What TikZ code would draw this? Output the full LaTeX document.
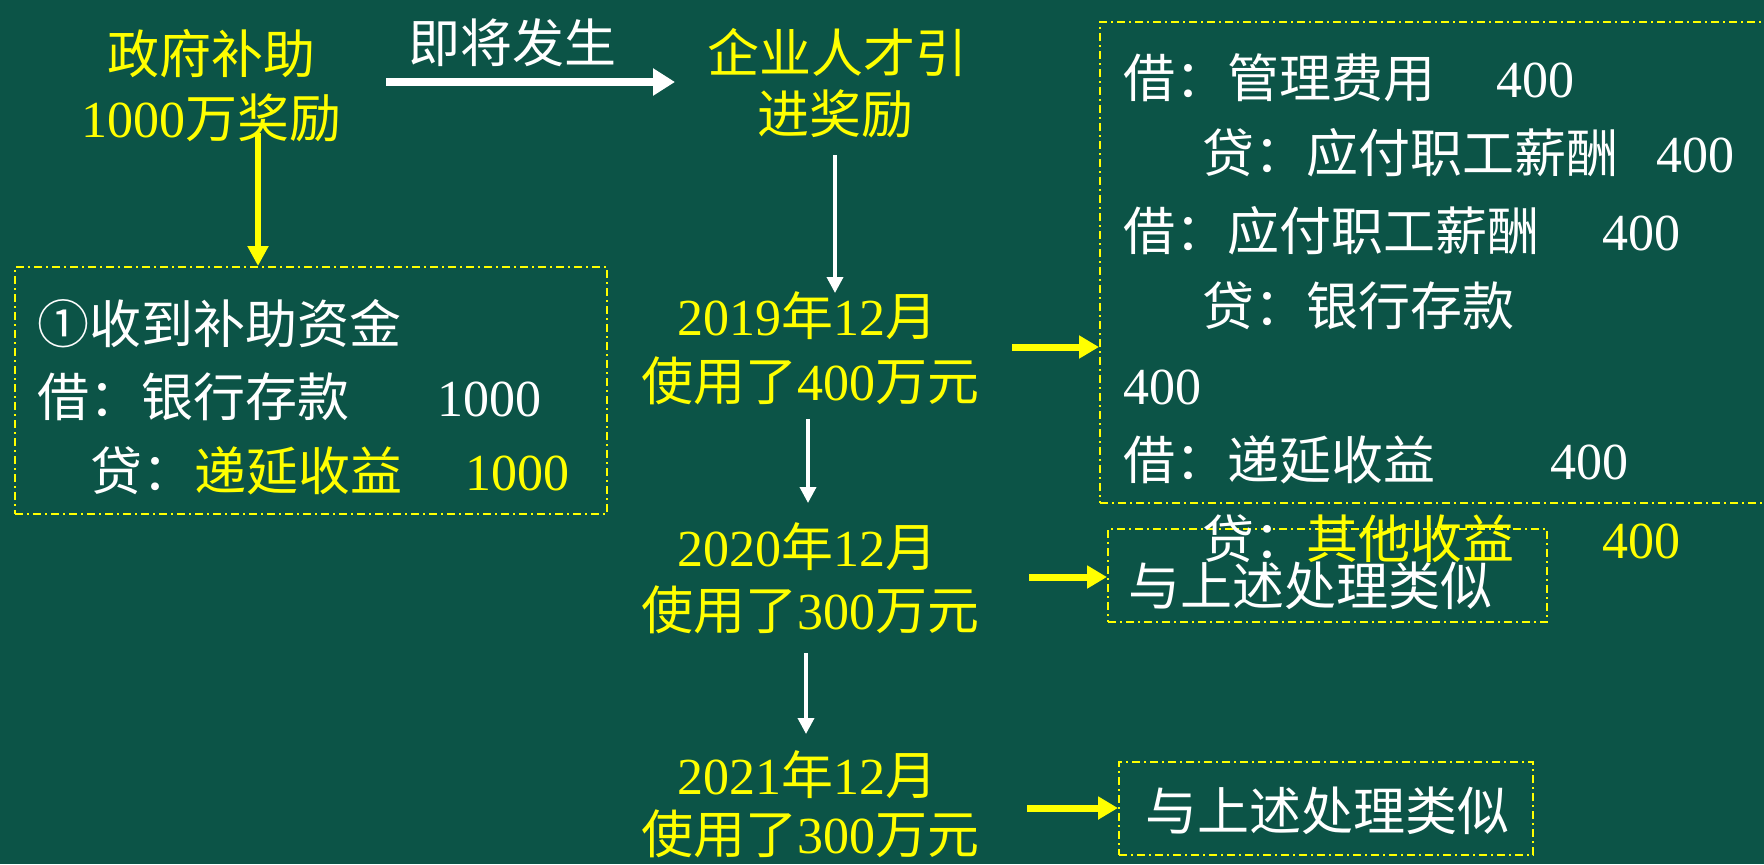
\documentclass[tikz,border=0pt]{standalone}
\usepackage{fontspec}
\setmainfont{Noto Sans CJK SC}
\newfontfamily\numf{Liberation Serif}
\newcommand\Dg[1]{{\numf #1}}
\usetikzlibrary{arrows.meta}
\definecolor{bg}{RGB}{12,84,71}
\definecolor{yel}{RGB}{255,255,0}
\begin{document}
\begin{tikzpicture}[x=0.5pt,y=-0.5pt,
  txt/.style={inner sep=0pt, font=\fontsize{26pt}{32pt}\selectfont, anchor=base},
  ytxt/.style={txt, text=yel},
  wtxt/.style={txt, text=white},
  ltxt/.style={wtxt, anchor=base west},
  dbox/.style={draw=yel, line width=1pt, dash pattern=on 4pt off 2pt on 1pt off 2pt, inner sep=0pt},
  bigw/.style={draw=white, line width=4pt, -{Triangle[length=11pt,width=13pt]}},
  thinw/.style={draw=white, line width=1.8pt, -{Triangle[length=8pt,width=8pt]}},
  yv/.style={draw=yel, line width=3pt, -{Triangle[length=10pt,width=10pt]}},
  yh/.style={draw=yel, line width=3.5pt, -{Triangle[length=10pt,width=11pt]}}
]
\fill[bg] (0,0) rectangle (1764,864);
\useasboundingbox (0,0) rectangle (1764,864);
\clip (0,0) rectangle (1764,864);

% yellow labels
\node[ytxt] (gov1) at (211,73) {政府补助};
\node[ytxt] (gov2) at (211,137) {\Dg{1000}万奖励};
\node[wtxt] (soon) at (512,62) {即将发生};
\node[ytxt] (ent1) at (837,72) {企业人才引};
\node[ytxt] (ent2) at (835,133) {进奖励};
\node[ytxt] (y19a) at (807,335) {\Dg{2019}年\Dg{12}月};
\node[ytxt] (y19b) at (810,400) {使用了\Dg{400}万元};
\node[ytxt] (y20a) at (807,566) {\Dg{2020}年\Dg{12}月};
\node[ytxt] (y20b) at (810,629) {使用了\Dg{300}万元};
\node[ytxt] (y21a) at (807,794) {\Dg{2021}年\Dg{12}月};
\node[ytxt] (y21b) at (810,853) {使用了\Dg{300}万元};

% boxes
\node[dbox, minimum width=296pt, minimum height=123.5pt] (box1) at (311,390.5) {};
\node[dbox, minimum width=345pt, minimum height=240.5pt] (box2) at (1445,262.5) {};
\node[dbox, minimum width=219.5pt, minimum height=46.5pt] (box3) at (1327.5,575.5) {};
\node[dbox, minimum width=207pt, minimum height=46.5pt] (box4) at (1326,808.5) {};

% left box text
\node[ltxt] (b1) at (37,343) {①收到补助资金};
\node[ltxt] (b2) at (37,416) {借：银行存款};
\node[ltxt] (b2n) at (437,416) {\Dg{1000}};
\node[ltxt] (b3) at (90,490) {贷：\textcolor{yel}{递延收益}};
\node[ltxt, text=yel] (b3n) at (465,490) {\Dg{1000}};

% right box text
\node[ltxt] (r1) at (1123,97) {借：管理费用};
\node[ltxt] (r1n) at (1496,97) {\Dg{400}};
\node[ltxt] (r2) at (1202,172) {贷：应付职工薪酬};
\node[ltxt] (r2n) at (1656,172) {\Dg{400}};
\node[ltxt] (r3) at (1123,250) {借：应付职工薪酬};
\node[ltxt] (r3n) at (1602,250) {\Dg{400}};
\node[ltxt] (r4) at (1202,325) {贷：银行存款};
\node[ltxt] (r5) at (1123,404) {\Dg{400}};
\node[ltxt] (r6) at (1123,479) {借：递延收益};
\node[ltxt] (r6n) at (1550,479) {\Dg{400}};
\node[ltxt] (r7) at (1202,558) {贷：\textcolor{yel}{其他收益}};
\node[ltxt, text=yel] (r7n) at (1602,558) {\Dg{400}};

\node[ltxt] (s1) at (1128,605) {与上述处理类似};
\node[ltxt] (s2) at (1145,830) {与上述处理类似};

% arrows
\coordinate (wa1) at (386,82);
\coordinate (wa2) at (675,82);
\draw[bigw] (wa1) -- (wa2);
\coordinate (aL) at (258,133);
\draw[yv] (aL) -- (aL |- box1.north);
\coordinate (w1s) at (835,155);
\coordinate (w1e) at (835,293);
\draw[thinw] (w1s) -- (w1e);
\coordinate (w2s) at (808,419);
\coordinate (w2e) at (808,503);
\draw[thinw] (w2s) -- (w2e);
\coordinate (w3s) at (806,653);
\coordinate (w3e) at (806,734);
\draw[thinw] (w3s) -- (w3e);
\coordinate (ya1) at (1012,347);
\draw[yh] (ya1) -- (ya1 -| box2.west);
\coordinate (ya2) at (1029,577);
\draw[yh] (ya2) -- (ya2 -| box3.west);
\coordinate (ya3) at (1027,808);
\draw[yh] (ya3) -- (ya3 -| box4.west);
\end{tikzpicture}
\end{document}
